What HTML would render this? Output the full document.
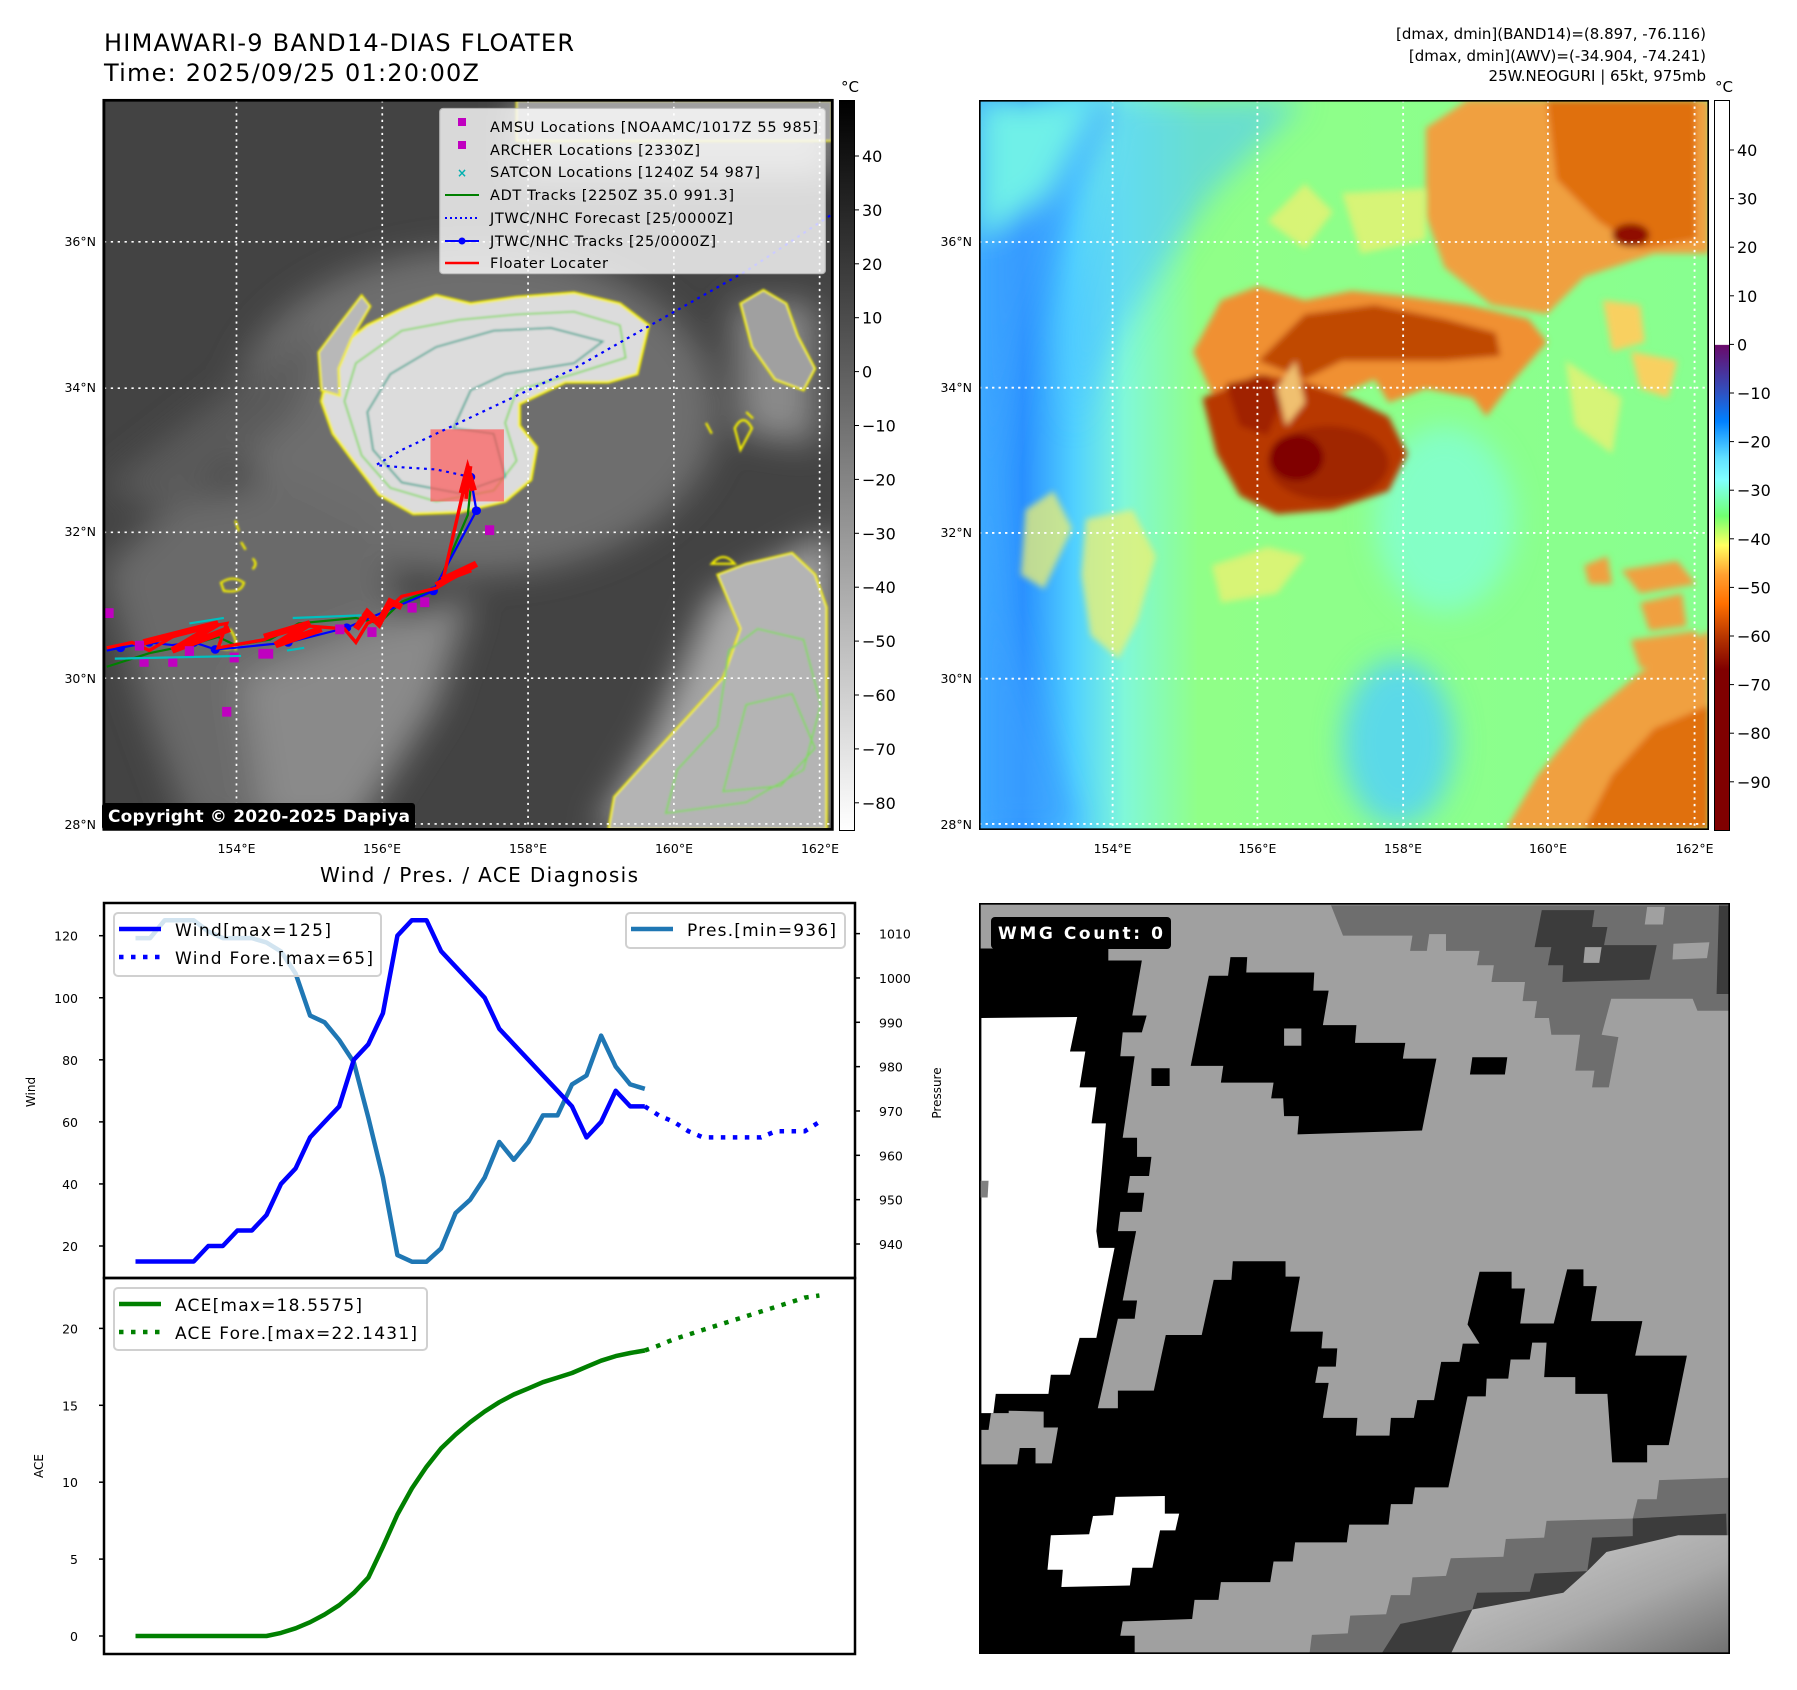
<!DOCTYPE html>
<html><head><meta charset="utf-8"><style>
html,body{margin:0;padding:0;background:#fff}
svg{display:block}
text{font-family:"DejaVu Sans","Liberation Sans",sans-serif}
</style></head><body>
<svg id="root" width="1797" height="1690" viewBox="0 0 1797 1690" xmlns="http://www.w3.org/2000/svg">
<defs>
 <filter id="blur4" x="-10%" y="-10%" width="120%" height="120%"><feGaussianBlur stdDeviation="7"/></filter>
 <filter id="blur2"><feGaussianBlur stdDeviation="2"/></filter>
 <filter id="blur20" x="-30%" y="-30%" width="160%" height="160%"><feGaussianBlur stdDeviation="30"/></filter>
 <linearGradient id="cb1" x1="0" y1="0" x2="0" y2="1"><stop offset="0" stop-color="#000"/><stop offset="1" stop-color="#fff"/></linearGradient>
 <linearGradient id="cb2" gradientUnits="userSpaceOnUse" x1="0" y1="100" x2="0" y2="830">
  <stop offset="0" stop-color="#fff"/><stop offset="0.335" stop-color="#fff"/>
  <stop offset="0.336" stop-color="#6a0a6a"/><stop offset="0.40" stop-color="#3050c0"/>
  <stop offset="0.44" stop-color="#0080ff"/><stop offset="0.49" stop-color="#60e0ff"/>
  <stop offset="0.52" stop-color="#80ffff"/><stop offset="0.57" stop-color="#70ff70"/>
  <stop offset="0.61" stop-color="#ffff60"/><stop offset="0.65" stop-color="#ffa030"/>
  <stop offset="0.69" stop-color="#ff7000"/><stop offset="0.74" stop-color="#b03000"/>
  <stop offset="0.78" stop-color="#800000"/><stop offset="1" stop-color="#800000"/>
 </linearGradient>
 <linearGradient id="m2bg" x1="0" y1="0" x2="1" y2="0">
  <stop offset="0" stop-color="#40b0ff"/><stop offset="0.06" stop-color="#2a90ff"/><stop offset="0.13" stop-color="#50d0ff"/><stop offset="0.2" stop-color="#80f8d8"/><stop offset="0.3" stop-color="#90ff88"/><stop offset="1" stop-color="#88ff90"/>
 </linearGradient>
 <linearGradient id="wmgG" x1="0" y1="0" x2="1" y2="1">
  <stop offset="0" stop-color="#d0d0d0"/><stop offset="0.6" stop-color="#a8a8a8"/><stop offset="1" stop-color="#707070"/>
 </linearGradient>
 <clipPath id="m1clip"><rect x="181" y="185" width="1269" height="1345"/></clipPath>
</defs>

<text x="104" y="51" font-size="24" textLength="470">HIMAWARI-9 BAND14-DIAS FLOATER</text>
<text x="104" y="81" font-size="24" textLength="375">Time: 2025/09/25 01:20:00Z</text>
<text x="1706" y="39" font-size="15" text-anchor="end">[dmax, dmin](BAND14)=(8.897, -76.116)</text>
<text x="1706" y="61" font-size="15" text-anchor="end">[dmax, dmin](AWV)=(-34.904, -74.241)</text>
<text x="1706" y="81" font-size="15" text-anchor="end">25W.NEOGURI | 65kt, 975mb</text>

<!-- MAP 1 -->
<svg x="0" y="0" width="900" height="850" viewBox="0 0 1568 1568" preserveAspectRatio="none">
 <g clip-path="url(#m1clip)">
  <rect x="181" y="185" width="1269" height="1345" fill="#434343"/>
  <g filter="url(#blur20)">
   <ellipse cx="830" cy="760" rx="420" ry="300" fill="#6e6e6e"/>
   <path d="M181,1050 L300,930 L500,880 L650,960 L700,1120 L620,1260 L560,1530 L330,1530 L250,1300 Z" fill="#6a6a6a"/>
   <path d="M420,1250 L640,1160 L820,1100 L760,1300 L620,1530 L460,1530 Z" fill="#8a8a8a"/>
   <path d="M1240,1100 L1450,980 L1450,1530 L1040,1530 L1140,1350 Z" fill="#a6a6a6"/>
   <path d="M1280,560 L1420,560 L1420,820 L1290,800 Z" fill="#8a8a8a"/>
   <rect x="900" y="185" width="550" height="140" fill="#9a9a9a"/>
   <path d="M181,900 L400,720 L560,600 L520,760 L300,950 Z" fill="#5a5a5a"/>
  </g>
  <g filter="url(#blur2)">
   <path d="M560,740 L580,650 L640,600 L700,570 L760,545 L820,560 L900,548 L1000,540 L1080,560 L1130,600 L1110,690 L1060,705 L985,705 L905,745 L905,785 L935,825 L925,885 L880,925 L800,945 L720,948 L660,912 L615,850 L580,800 Z" fill="#dcdcdc" stroke="#f5f000" stroke-width="5"/>
   <path d="M600,740 L620,670 L700,610 L800,590 L900,580 L1000,575 L1080,600 L1090,660 L1000,690 L900,720 L880,780 L900,850 L860,905 L760,925 L680,900 L630,840 Z" fill="none" stroke="#7ed957" stroke-width="3"/>
   <path d="M640,760 L680,690 L760,640 L860,610 L960,605 L1050,630 L1000,670 L880,690 L820,720 L790,790 L860,800 L880,880 L800,910 L700,890 L650,830 Z" fill="none" stroke="#23a08a" stroke-width="3"/>
   <path d="M560,720 L555,650 L590,600 L630,545 L645,565 L612,625 L590,680 L592,730 Z" fill="#b8b8b8" stroke="#f5f000" stroke-width="4"/>
   <path d="M1290,560 L1330,535 L1370,560 L1390,620 L1420,680 L1400,720 L1350,700 L1310,640 Z" fill="#a0a0a0" stroke="#f5f000" stroke-width="4"/>
   <path d="M1250,1060 L1300,1040 L1380,1020 L1420,1060 L1440,1120 L1440,1530 L1060,1530 L1070,1470 L1130,1400 L1200,1320 L1260,1250 L1290,1160 Z" fill="#b4b4b4" stroke="#f5f000" stroke-width="4"/>
   <path d="M1270,1200 L1320,1160 L1400,1180 L1430,1300 L1400,1420 L1300,1480 L1160,1500 L1180,1420 L1250,1340 Z" fill="none" stroke="#7ed957" stroke-width="3"/>
   <path d="M1300,1300 L1380,1280 L1420,1380 L1360,1450 L1260,1460 Z" fill="none" stroke="#7ed957" stroke-width="3"/>
   <path d="M900,185 L1450,185 L1450,260 L900,260 Z" fill="#a0a0a0" stroke="#f5f000" stroke-width="3"/>
   <g fill="none" stroke="#f5f000" stroke-width="4">
    <path d="M385,1075 q20,-15 40,0 q-5,20 -35,15 z"/><path d="M410,960 l6,20"/><path d="M420,1000 l8,14"/><path d="M440,1030 q10,10 0,20"/>
    <path d="M1240,1040 q20,-25 40,0 z"/><path d="M1280,790 q15,-30 30,0 l-20,40 z"/><path d="M1230,780 l10,20"/><path d="M1300,760 l12,12"/>
    <path d="M400,1160 q15,20 10,40"/><path d="M380,1190 q15,15 30,0"/>
   </g>
  </g>
  <g stroke="#fff" stroke-width="3" stroke-dasharray="4 8">
   <line x1="412" y1="185" x2="412" y2="1530"/><line x1="666" y1="185" x2="666" y2="1530"/><line x1="920" y1="185" x2="920" y2="1530"/><line x1="1174" y1="185" x2="1174" y2="1530"/><line x1="1428" y1="185" x2="1428" y2="1530"/>
   <line x1="181" y1="446" x2="1450" y2="446"/><line x1="181" y1="716" x2="1450" y2="716"/><line x1="181" y1="982" x2="1450" y2="982"/><line x1="181" y1="1251" x2="1450" y2="1251"/><line x1="181" y1="1520" x2="1450" y2="1520"/>
  </g>
  <rect x="750" y="792" width="128" height="133" fill="#ff5050" opacity="0.65"/>
  <polyline points="186,1230 260,1205 330,1190 380,1175 410,1190 470,1180 520,1150 620,1140 660,1150 700,1110 760,1085 815,950 820,900" fill="none" stroke="#007f00" stroke-width="4"/>
  <polyline points="186,1200 210,1195 260,1185 300,1190 338,1185 375,1198 410,1195 502,1185 604,1158 755,1090 830,942 820,880" fill="none" stroke="#0000ff" stroke-width="4"/>
  <g fill="#0000ff">
   <circle cx="210" cy="1195" r="8"/><circle cx="260" cy="1185" r="8"/><circle cx="338" cy="1185" r="8"/><circle cx="375" cy="1198" r="8"/><circle cx="502" cy="1185" r="8"/><circle cx="604" cy="1158" r="8"/><circle cx="755" cy="1090" r="8"/><circle cx="830" cy="942" r="8"/><circle cx="820" cy="880" r="8"/>
  </g>
  <polyline points="820,880 760,866 700,862 655,858 700,830 800,780 900,730 1000,680 1100,620 1200,560 1300,500 1450,395" fill="none" stroke="#0000ff" stroke-width="4" stroke-dasharray="5 8"/>
  <polyline points="186,1195 230,1185 260,1200 300,1175 340,1160 395,1150 380,1195 460,1180 500,1160 540,1155 600,1160 620,1185 640,1150 660,1140 700,1100 760,1085 830,1040 770,1078 815,870 812,920 820,860" fill="none" stroke="#ff0000" stroke-width="6"/>
  <g stroke="#ff0000" stroke-width="12" fill="none"><path d="M250,1185 L380,1150 L300,1200 L400,1160"/><path d="M460,1175 L540,1150 L480,1190 L560,1160"/><path d="M620,1160 L640,1130 L660,1150 L680,1110 L700,1120"/><path d="M760,1080 L830,1040 L770,1070 L820,1050"/><path d="M805,910 L815,870 L825,905"/></g>
  <g fill="#c000c0">
   <rect x="182" y="1122" width="16" height="18"/><rect x="235" y="1182" width="16" height="18"/><rect x="243" y="1212" width="16" height="18"/><rect x="293" y="1212" width="16" height="18"/><rect x="322" y="1192" width="16" height="18"/><rect x="400" y="1204" width="16" height="18"/><rect x="450" y="1197" width="26" height="18"/><rect x="584" y="1152" width="16" height="18"/><rect x="640" y="1157" width="16" height="18"/><rect x="710" y="1112" width="16" height="18"/><rect x="732" y="1102" width="16" height="18"/><rect x="845" y="969" width="16" height="18"/><rect x="387" y="1304" width="16" height="18"/>
  </g>
  <g stroke="#00c0c0" stroke-width="4" fill="none">
   <path d="M200,1215 l220,-5 M330,1150 l60,-10 M510,1140 l120,-5 M500,1200 l30,-5"/>
  </g>
 </g>
 <rect x="181" y="185" width="1269" height="1345" fill="none" stroke="#000" stroke-width="5"/>
 <g>
  <rect x="766" y="200" width="672" height="305" rx="6" fill="#fff" opacity="0.8" stroke="#ccc" stroke-width="2"/>
 </g>
</svg>
<g>
 <rect x="458" y="118" width="8" height="8" fill="#c000c0"/>
 <text x="490" y="132" font-size="14.5" textLength="328">AMSU Locations [NOAAMC/1017Z 55 985]</text>
 <rect x="458" y="141" width="8" height="8" fill="#c000c0"/>
 <text x="490" y="155" font-size="14.5" textLength="210">ARCHER Locations [2330Z]</text>
 <text x="462" y="177" font-size="12" fill="#00b0b0" text-anchor="middle" font-weight="bold">×</text>
 <text x="490" y="177" font-size="14.5" textLength="270">SATCON Locations [1240Z 54 987]</text>
 <line x1="445" y1="195" x2="479" y2="195" stroke="#007f00" stroke-width="2"/>
 <text x="490" y="200" font-size="14.5" textLength="244">ADT Tracks [2250Z 35.0 991.3]</text>
 <line x1="445" y1="218" x2="479" y2="218" stroke="#0000ff" stroke-width="2" stroke-dasharray="2 3"/>
 <text x="490" y="223" font-size="14.5" textLength="243">JTWC/NHC Forecast [25/0000Z]</text>
 <line x1="445" y1="241" x2="479" y2="241" stroke="#0000ff" stroke-width="2"/><circle cx="462" cy="241" r="3.5" fill="#0000ff"/>
 <text x="490" y="246" font-size="14.5" textLength="226">JTWC/NHC Tracks [25/0000Z]</text>
 <line x1="445" y1="263" x2="479" y2="263" stroke="#ff0000" stroke-width="2.5"/>
 <text x="490" y="268" font-size="14.5" textLength="118">Floater Locater</text>
</g>
<rect x="102" y="803" width="313" height="27" rx="3" fill="#000"/>
<text x="108" y="822" font-size="17" font-weight="bold" fill="#fff" textLength="302">Copyright © 2020-2025 Dapiya</text>

<g font-size="12.5">
 <text x="96" y="246" text-anchor="end">36°N</text><text x="96" y="392" text-anchor="end">34°N</text><text x="96" y="536" text-anchor="end">32°N</text><text x="96" y="683" text-anchor="end">30°N</text><text x="96" y="829" text-anchor="end">28°N</text>
 <text x="236.5" y="853" text-anchor="middle">154°E</text><text x="382" y="853" text-anchor="middle">156°E</text><text x="528" y="853" text-anchor="middle">158°E</text><text x="674" y="853" text-anchor="middle">160°E</text><text x="820" y="853" text-anchor="middle">162°E</text>
</g>
<g>
 <rect x="839.5" y="100.5" width="15" height="730" fill="url(#cb1)" stroke="#000" stroke-width="1"/>
 <text x="850" y="92" font-size="15" text-anchor="middle">°C</text>
 <g id="cb1ticks" font-size="16"></g>
</g>

<!-- MAP 2 -->
<svg x="979" y="100" width="730" height="730" viewBox="0 0 1568 1568" preserveAspectRatio="none">
 <rect x="0" y="0" width="1568" height="1568" fill="url(#m2bg)"/>
 <g filter="url(#blur20)">
  <path d="M0,0 L300,0 L200,200 L100,500 L40,800 L60,1100 L140,1350 L220,1568 L0,1568 Z" fill="#3aa0ff" opacity="0.7"/>
  <path d="M0,0 L250,0 L150,200 L0,300 Z" fill="#70f0e8"/>
  <path d="M300,0 L700,0 L500,200 L300,500 L200,700 L180,500 Z" fill="#50c8ff" opacity="0.6"/>
  <ellipse cx="900" cy="1380" rx="120" ry="180" fill="#50d0ff" opacity="0.8"/>
  <ellipse cx="1000" cy="900" rx="150" ry="200" fill="#80ffe0" opacity="0.7"/>
 </g>
 <g filter="url(#blur4)">
  <path d="M960,60 L1050,0 L1568,0 L1568,330 L1450,330 L1300,380 L1220,460 L1100,440 L1000,360 L960,250 Z" fill="#f0a040"/>
  <path d="M1220,0 L1540,0 L1540,300 L1420,320 L1330,260 L1240,170 Z" fill="#e07010"/>
  <ellipse cx="1400" cy="290" rx="40" ry="25" fill="#901000"/>
  <path d="M460,540 L520,430 L600,400 L700,430 L800,410 L900,420 L1050,440 L1180,470 L1220,520 L1150,600 L1090,680 L1060,640 L960,620 L880,650 L850,600 L760,640 L700,700 L620,680 L560,640 L500,630 Z" fill="#f09030"/>
  <path d="M600,560 L700,460 L850,440 L1000,470 L1110,500 L1120,550 L1000,560 L880,560 L780,560 L700,600 Z" fill="#c04a00"/>
  <path d="M480,640 L600,590 L680,600 L800,640 L880,680 L920,760 L880,840 L760,880 L640,890 L560,850 L510,760 Z" fill="#b83800"/>
  <path d="M530,610 L620,590 L650,650 L620,720 L560,700 Z" fill="#a02000"/>
  <ellipse cx="750" cy="780" rx="130" ry="80" fill="#a02800"/>
  <ellipse cx="682" cy="768" rx="58" ry="50" fill="#800000"/>
  <path d="M640,620 L680,560 L700,650 L660,700 Z" fill="#f0c070"/>
  <path d="M1130,1568 L1200,1450 L1300,1330 L1420,1230 L1568,1140 L1568,1568 Z" fill="#f0a040"/>
  <path d="M1300,1568 L1360,1450 L1450,1350 L1568,1300 L1568,1568 Z" fill="#e07010"/>
  <path d="M1300,1000 L1350,980 L1360,1040 L1310,1040 Z M1380,1010 L1500,990 L1540,1040 L1420,1060 Z M1420,1080 L1510,1060 L1520,1130 L1440,1140 Z M1400,1160 L1540,1140 L1560,1220 L1420,1220 Z" fill="#f0a040"/>
  <path d="M1340,430 L1420,440 L1430,520 L1360,540 Z M1400,540 L1500,560 L1480,640 L1420,620 Z" fill="#f8d060"/>
 </g>
 <g fill="#f0f070" opacity="0.75" filter="url(#blur4)">
  <path d="M230,900 L330,880 L380,980 L340,1120 L300,1200 L240,1150 L220,1020 Z"/>
  <path d="M100,880 L160,840 L200,920 L140,1050 L90,1020 Z"/>
  <path d="M500,1000 L620,960 L700,980 L640,1060 L520,1080 Z"/>
  <path d="M620,260 L700,180 L760,240 L700,320 Z"/>
  <path d="M780,200 L960,190 L960,300 L820,330 Z"/>
  <path d="M1260,560 L1380,640 L1360,760 L1280,700 Z"/>
 </g>
 <g stroke="#fff" stroke-width="4" stroke-dasharray="5 9">
  <line x1="287" y1="0" x2="287" y2="1568"/><line x1="598" y1="0" x2="598" y2="1568"/><line x1="911" y1="0" x2="911" y2="1568"/><line x1="1222" y1="0" x2="1222" y2="1568"/><line x1="1537" y1="0" x2="1537" y2="1568"/>
  <line x1="0" y1="305" x2="1568" y2="305"/><line x1="0" y1="618" x2="1568" y2="618"/><line x1="0" y1="930" x2="1568" y2="930"/><line x1="0" y1="1243" x2="1568" y2="1243"/><line x1="0" y1="1555" x2="1568" y2="1555"/>
 </g>
 <rect x="0" y="0" width="1568" height="1568" fill="none" stroke="#000" stroke-width="7"/>
</svg>
<g font-size="12.5">
 <text x="972" y="246" text-anchor="end">36°N</text><text x="972" y="392" text-anchor="end">34°N</text><text x="972" y="537" text-anchor="end">32°N</text><text x="972" y="683" text-anchor="end">30°N</text><text x="972" y="829" text-anchor="end">28°N</text>
 <text x="1112.6" y="853" text-anchor="middle">154°E</text><text x="1257.4" y="853" text-anchor="middle">156°E</text><text x="1403" y="853" text-anchor="middle">158°E</text><text x="1548" y="853" text-anchor="middle">160°E</text><text x="1694.5" y="853" text-anchor="middle">162°E</text>
</g>
<g>
 <rect x="1714.5" y="100.5" width="15" height="730" fill="url(#cb2)" stroke="#000" stroke-width="1"/>
 <text x="1724" y="92" font-size="15" text-anchor="middle">°C</text>
 <g id="cb2ticks" font-size="16"></g>
</g>

<!-- WMG panel -->
<svg x="979" y="903" width="751" height="751" viewBox="0 0 1568 1568" preserveAspectRatio="none">
 <rect x="0" y="0" width="1568" height="1568" fill="#a0a0a0"/>
 <path d="M735,5 L1568,5 L1568,225 L1500,225 L1490,200 L1320,200 L1300,275 L1335,280 L1315,385 L1280,385 L1285,350 L1245,350 L1255,275 L1195,275 L1190,240 L1160,240 L1165,205 L1135,205 L1140,165 L1070,165 L1075,130 L1040,130 L1045,100 L975,100 L975,65 L940,65 L935,100 L900,100 L905,68 L760,68 Z" fill="#6e6e6e"/>
 <path d="M1175,15 L1285,15 L1280,50 L1312,50 L1305,88 L1415,88 L1400,160 L1218,165 L1220,130 L1188,130 L1195,92 L1160,92 Z M1545,5 L1568,5 L1568,190 L1540,190 Z" fill="#3c3c3c"/>
 <path d="M1395,8 L1432,8 L1428,45 L1390,45 Z M1450,85 L1525,82 L1520,115 L1448,118 Z M1265,92 L1300,92 L1295,125 L1262,125 Z M1400,310 L1438,310 L1432,348 L1395,348 Z" fill="#a0a0a0"/>
 <path d="M0,95 L270,95 L270,120 L340,120 L320,235 L350,235 L340,270 L300,270 L295,320 L325,320 L300,490 L330,490 L330,530 L360,530 L355,570 L315,570 L310,605 L345,605 L340,645 L295,645 L290,685 L328,685 L300,830 L330,830 L325,868 L290,868 L248,1055 L290,1055 L290,1018 L365,1018 L390,902 L465,902 L490,787 L527,787 L530,748 L640,748 L640,780 L670,780 L650,895 L718,895 L715,930 L748,930 L745,968 L708,968 L702,1002 L730,1002 L718,1075 L790,1075 L787,1112 L857,1112 L860,1075 L908,1075 L915,1038 L950,1038 L965,958 L1003,958 L1010,920 L1045,920 L1020,880 L1045,770 L1112,770 L1112,805 L1140,805 L1130,878 L1200,878 L1228,765 L1262,765 L1262,800 L1290,800 L1278,873 L1385,873 L1370,945 L1478,945 L1440,1132 L1395,1132 L1395,1168 L1322,1168 L1312,1025 L1245,1025 L1245,990 L1180,990 L1185,918 L1155,918 L1150,953 L1110,953 L1105,993 L1060,993 L1058,1030 L1020,1030 L980,1220 L910,1220 L905,1255 L860,1255 L855,1298 L773,1298 L768,1335 L660,1335 L655,1375 L615,1375 L608,1418 L505,1418 L500,1455 L450,1455 L445,1495 L300,1500 L295,1530 L325,1530 L325,1568 L0,1568 Z" fill="#000"/>
 <path d="M480,152 L520,152 L525,113 L560,113 L558,145 L700,145 L698,183 L730,183 L718,255 L788,255 L785,292 L890,292 L885,325 L955,325 L925,475 L665,483 L668,445 L637,445 L635,408 L610,408 L615,375 L505,375 L510,340 L442,340 Z M360,345 L398,345 L398,382 L360,382 Z M1030,322 L1103,322 L1098,358 L1025,358 Z" fill="#000"/>
 <rect x="637" y="262" width="36" height="36" fill="#a0a0a0"/>
 <path d="M5,240 L205,238 L190,310 L222,310 L210,385 L245,385 L235,460 L265,460 L245,685 L250,720 L283,720 L245,908 L210,908 L190,985 L150,985 L145,1025 L35,1025 L30,1065 L5,1065 Z" fill="#fff"/>
 <path d="M0,580 L20,580 L18,615 L0,615 Z" fill="#808080"/>
 <path d="M5,1100 L20,1100 L25,1065 L62,1065 L62,1060 L135,1062 L135,1095 L165,1095 L152,1170 L118,1170 L118,1138 L85,1138 L80,1172 L5,1172 Z" fill="#a0a0a0"/>
 <path d="M150,1320 L230,1318 L238,1280 L280,1278 L285,1240 L388,1238 L388,1275 L418,1275 L410,1310 L378,1310 L362,1388 L320,1388 L315,1425 L172,1428 L175,1392 L143,1392 Z" fill="#fff"/>
 <path d="M690,1568 L695,1528 L770,1525 L775,1488 L850,1485 L860,1445 L900,1445 L905,1408 L975,1405 L985,1368 L1095,1365 L1100,1328 L1180,1325 L1185,1290 L1365,1285 L1375,1245 L1415,1245 L1420,1205 L1568,1200 L1568,1568 Z" fill="#6e6e6e"/>
 <path d="M840,1568 L880,1505 L1030,1475 L1040,1440 L1150,1438 L1160,1400 L1270,1395 L1280,1325 L1365,1322 L1365,1285 L1560,1275 L1568,1568 Z" fill="#3c3c3c"/>
 <path d="M985,1568 L1030,1475 L1220,1440 L1270,1395 L1310,1355 L1460,1320 L1568,1320 L1568,1568 Z" fill="url(#wmgG)"/>
 <rect x="0" y="0" width="1568" height="1568" fill="none" stroke="#000" stroke-width="7"/>
</svg>
<rect x="991" y="917" width="180" height="32" rx="4" fill="#000"/>
<text x="998" y="939" font-size="17" font-weight="bold" fill="#fff" textLength="165">WMG Count: 0</text>

<text x="479" y="882" font-size="20" text-anchor="middle" textLength="318">Wind / Pres. / ACE Diagnosis</text>
<g id="diag"></g>
</svg>

<script>
const windObs = [15,15,15,15,15,20,20,25,25,30,40,45,55,60,65,80,85,95,120,125,125,115,110,105,100,90,85,80,75,70,65,55,60,70,65,65];
const windFore = [65,62,60,57,55,55,55,55,55,57,57,57,60];
const presObs = [1009,1009,1013,1013,1013,1010.5,1009,1009,1009,1008,1006,1001,991.5,990,986,981,968.5,955,937.5,936,936,939,947,950,955,963,959,963,969,969,976,978,987,980,976,975];
const aceObs = [0,0,0,0,0,0,0,0,0,0,0.2,0.5,0.9,1.4,2.0,2.8,3.8,5.8,7.9,9.6,11.0,12.2,13.1,13.9,14.6,15.2,15.7,16.1,16.5,16.8,17.1,17.5,17.9,18.2,18.4,18.56];
const aceFore = [18.56,18.9,19.3,19.6,19.9,20.2,20.5,20.8,21.1,21.4,21.7,22.0,22.14];
const windTicks = [20,40,60,80,100,120];
const presTicks = [940,950,960,970,980,990,1000,1010];
const aceTicks = [0,5,10,15,20];
const cb1Ticks = [40,30,20,10,0,-10,-20,-30,-40,-50,-60,-70,-80];
const cb2Ticks = [40,30,20,10,0,-10,-20,-30,-40,-50,-60,-70,-80,-90];

const NS = "http://www.w3.org/2000/svg";
function mk(tag, attrs, parent){const e=document.createElementNS(NS,tag);for(const k in attrs)e.setAttribute(k,attrs[k]);parent.appendChild(e);return e;}
const xS = i => 135.5 + i*14.55;
const yWind = v => 1246 - (v-20)*3.103;
const yPres = p => 1244 - (p-940)*4.434;
const yAce = a => 1636 - a*15.38;
const fmt = v => v<0 ? "\u2212"+Math.abs(v) : String(v);

const cb1 = document.getElementById('cb1ticks');
cb1Ticks.forEach(v=>{const y=156+(40-v)*5.39;
 const t=mk('line',{x1:854,x2:859,y1:y,y2:y,stroke:'#000','stroke-width':1},cb1);
 
 
 const l=mk('text',{x:862,y:y+6},cb1); l.textContent=fmt(v);
 
 });
const cb2 = document.getElementById('cb2ticks');
cb2Ticks.forEach(v=>{const y=150+(40-v)*4.86;
 const t=mk('line',{x1:1729,x2:1734,y1:y,y2:y,stroke:'#000','stroke-width':1},cb2);
 
 
 const l=mk('text',{x:1737,y:y+6},cb2); l.textContent=fmt(v);
 
 });

const g = document.getElementById('diag');
const f1 = mk('rect',{x:104,y:903,width:751,height:375,fill:'none',stroke:'#000','stroke-width':2.5},g);


const f2 = mk('rect',{x:104,y:1278,width:751,height:376,fill:'none',stroke:'#000','stroke-width':2.5},g);



windTicks.forEach(v=>{const y=yWind(v);
 mk('line',{x1:99,x2:104,y1:y,y2:y,stroke:'#000','stroke-width':1.5},g);
 const t=mk('text',{x:78,y:y+5,'font-size':12.5,'text-anchor':'end'},g); t.textContent=v;
 
 });
presTicks.forEach(v=>{const y=yPres(v);
 mk('line',{x1:855,x2:860,y1:y,y2:y,stroke:'#000','stroke-width':1.5},g);
 const t=mk('text',{x:879,y:y+5,'font-size':12.5},g); t.textContent=v;
 
 });
aceTicks.forEach(v=>{const y=yAce(v);
 mk('line',{x1:99,x2:104,y1:y,y2:y,stroke:'#000','stroke-width':1.5},g);
 const t=mk('text',{x:78,y:y+5,'font-size':12.5,'text-anchor':'end'},g); t.textContent=v;
 
 });
const wl=mk('text',{x:0,y:0,'font-size':12,'text-anchor':'middle',transform:'translate(35,1092) rotate(-90)'},g); wl.textContent='Wind';


const pl=mk('text',{x:0,y:0,'font-size':12,'text-anchor':'middle',transform:'translate(941,1093) rotate(-90)'},g); pl.textContent='Pressure';


const al=mk('text',{x:0,y:0,'font-size':12,'text-anchor':'middle',transform:'translate(43,1466) rotate(-90)'},g); al.textContent='ACE';



function pts(arr, off, yf){return arr.map((v,i)=>xS(i+off).toFixed(1)+','+yf(v).toFixed(1)).join(' ');}
const pPres = mk('polyline',{points:pts(presObs,0,yPres),fill:'none',stroke:'#1f77b4','stroke-width':4.5,'stroke-linejoin':'round'},g);


const pWind = mk('polyline',{points:pts(windObs,0,yWind),fill:'none',stroke:'#0000ff','stroke-width':4.5,'stroke-linejoin':'round'},g);


const pWindF = mk('polyline',{points:pts(windFore,windObs.length-1,yWind),fill:'none',stroke:'#0000ff','stroke-width':4.5,'stroke-dasharray':'4.5 7.5'},g);


const pAce = mk('polyline',{points:pts(aceObs,0,yAce),fill:'none',stroke:'#008000','stroke-width':4.5,'stroke-linejoin':'round'},g);


const pAceF = mk('polyline',{points:pts(aceFore,aceObs.length-1,yAce),fill:'none',stroke:'#008000','stroke-width':4.5,'stroke-dasharray':'4.5 7.5'},g);



function legend(x,y,w,h,name,entries){
 const lg=mk('g',{},g);
 
 
 mk('rect',{x:x,y:y,width:w,height:h,rx:4,fill:'#fff','fill-opacity':0.8,stroke:'#d0d0d0','stroke-width':2},lg);
 entries.forEach(e=>{
  mk('line',{x1:e.lx,x2:e.lx+42,y1:e.y-7,y2:e.y-7,stroke:e.c,'stroke-width':4.5,'stroke-dasharray':e.d||'none'},lg);
  const t=mk('text',{x:e.tx,y:e.y,'font-size':17,textLength:e.tl},lg); t.textContent=e.t;
 });
}
legend(114,913,267,63,'wind-legend',[{lx:119,tx:175,y:936,c:'#0000ff',t:'Wind[max=125]',tl:156},{lx:119,tx:175,y:964,c:'#0000ff',d:'4.5 7.5',t:'Wind Fore.[max=65]',tl:198}]);
legend(626,913,219,35,'pressure-legend',[{lx:631,tx:687,y:936,c:'#1f77b4',t:'Pres.[min=936]',tl:149}]);
legend(114,1288,313,62,'ace-legend',[{lx:119,tx:175,y:1311,c:'#008000',t:'ACE[max=18.5575]',tl:187},{lx:119,tx:175,y:1339,c:'#008000',d:'4.5 7.5',t:'ACE Fore.[max=22.1431]',tl:242}]);
</script>
</body></html>
